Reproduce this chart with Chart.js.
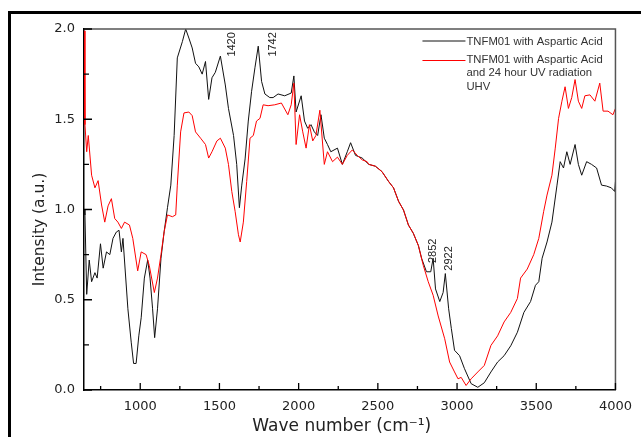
<!DOCTYPE html>
<html>
<head>
<meta charset="utf-8">
<script src="https://cdn.jsdelivr.net/npm/chart.js@4.4.1/dist/chart.umd.min.js"></script>
<style>
  html, body { margin: 0; padding: 0; background: #fff; overflow: hidden; }
  #wrap { position: relative; width: 641px; height: 437px; }
  #frame { position: absolute; left: 8px; top: 11px; width: 700px; height: 500px;
           border-left: 3px solid #000; border-top: 3px solid #000; pointer-events: none; }
</style>
</head>
<body>
<div id="wrap">
  <canvas id="irChart"></canvas>
  <div id="frame"></div>
</div>
<script>
// Series labels
const seriesLabels = ['TNFM01 with Aspartic Acid', 'TNFM01 with Aspartic Acid\nand 24 hour UV radiation\nUHV'];

// TNFM01 with Aspartic Acid (black)
const wnAspartic = [645, 651, 662, 678, 693, 714, 728, 749, 766, 787, 808, 828, 849, 866, 881, 891,
  922, 943, 958, 974, 991, 1006, 1026, 1047, 1062, 1078, 1091, 1109, 1131, 1151, 1172, 1193, 1214,
  1234, 1266, 1287, 1307, 1328, 1349, 1370, 1391, 1412, 1432, 1453, 1474, 1506, 1537, 1557, 1589,
  1609, 1626, 1641, 1662, 1682, 1703, 1724, 1745, 1766, 1787, 1818, 1839, 1870, 1912, 1953, 1970,
  1984, 2016, 2037, 2057, 2078, 2099, 2120, 2141, 2162, 2182, 2203, 2245, 2276, 2307, 2328, 2359,
  2401, 2443, 2484, 2526, 2568, 2599, 2631, 2662, 2693, 2724, 2756, 2776, 2807, 2834, 2849, 2864,
  2891, 2912, 2926, 2947, 2964, 2984, 3016, 3047, 3089, 3131, 3172, 3214, 3256, 3297, 3339, 3381,
  3422, 3464, 3495, 3516, 3537, 3568, 3599, 3631, 3651, 3672, 3693, 3714, 3745, 3766, 3787, 3818,
  3849, 3881, 3912, 3943, 3974, 3995, 4000];
const intAspartic = [1.00, 0.97, 0.53, 0.72, 0.60, 0.65, 0.62, 0.81, 0.675, 0.765, 0.75, 0.84, 0.875, 0.885, 0.765, 0.84,
  0.45, 0.265, 0.147, 0.147, 0.30, 0.40, 0.62, 0.72, 0.62, 0.45, 0.29, 0.45, 0.73, 0.877, 1.01, 1.135, 1.41,
  1.84, 1.93, 2.00, 1.95, 1.895, 1.81, 1.79, 1.75, 1.82, 1.61, 1.73, 1.76, 1.85, 1.69, 1.56, 1.41,
  1.25, 1.01, 1.135, 1.28, 1.49, 1.655, 1.785, 1.905, 1.71, 1.64, 1.62, 1.62, 1.64, 1.63, 1.645, 1.74,
  1.54, 1.63, 1.49, 1.45, 1.47, 1.43, 1.41, 1.525, 1.395, 1.36, 1.32, 1.34, 1.25, 1.32, 1.37, 1.30,
  1.285, 1.25, 1.24, 1.21, 1.155, 1.12, 1.045, 0.997, 0.914, 0.868, 0.80, 0.73, 0.655, 0.655, 0.73, 0.56,
  0.49, 0.54, 0.645, 0.45, 0.34, 0.22, 0.19, 0.118, 0.035, 0.015, 0.04, 0.10, 0.155, 0.19, 0.245, 0.32,
  0.43, 0.49, 0.58, 0.60, 0.73, 0.82, 0.93, 1.135, 1.265, 1.23, 1.32, 1.25, 1.36, 1.25, 1.19, 1.265,
  1.25, 1.23, 1.135, 1.13, 1.12, 1.10, 1.155];

// TNFM01 with Aspartic Acid and 24 hour UV radiation UHV (red)
const wnUV = [645, 651, 662, 672, 693, 714, 734, 756, 776, 797, 818, 839, 859, 881, 901, 932, 953,
  984, 1006, 1037, 1057, 1089, 1109, 1131, 1151, 1172, 1203, 1224, 1234, 1255, 1276, 1307, 1328,
  1349, 1381, 1412, 1432, 1453, 1484, 1506, 1537, 1557, 1578, 1599, 1620, 1631, 1651, 1672, 1693,
  1714, 1734, 1756, 1776, 1807, 1849, 1891, 1932, 1953, 1970, 1984, 2006, 2026, 2047, 2068, 2089,
  2109, 2134, 2162, 2182, 2214, 2245, 2276, 2307, 2339, 2370, 2401, 2432, 2443, 2484, 2526, 2568,
  2599, 2631, 2662, 2693, 2724, 2756, 2787, 2818, 2849, 2881, 2922, 2953, 2984, 3006, 3026, 3057,
  3089, 3131, 3172, 3214, 3256, 3297, 3339, 3381, 3401, 3443, 3484, 3516, 3547, 3568, 3599, 3620,
  3641, 3662, 3682, 3703, 3724, 3745, 3766, 3787, 3807, 3839, 3870, 3901, 3922, 3953, 3984, 4000];
const intUV = [1.99, 1.47, 1.32, 1.41, 1.19, 1.12, 1.16, 1.025, 0.93, 1.02, 1.06, 0.95, 0.93, 0.895, 0.93, 0.914, 0.84,
  0.66, 0.765, 0.75, 0.69, 0.54, 0.62, 0.75, 0.877, 0.97, 0.96, 0.97, 1.135, 1.43, 1.535, 1.54, 1.52,
  1.43, 1.395, 1.36, 1.285, 1.32, 1.38, 1.395, 1.34, 1.25, 1.10, 0.99, 0.86, 0.82, 0.93, 1.155, 1.395,
  1.41, 1.49, 1.505, 1.58, 1.575, 1.58, 1.59, 1.525, 1.58, 1.70, 1.36, 1.525, 1.43, 1.34, 1.47, 1.38,
  1.41, 1.55, 1.25, 1.32, 1.265, 1.29, 1.25, 1.30, 1.33, 1.30, 1.275, 1.265, 1.25, 1.24, 1.21, 1.155,
  1.12, 1.045, 0.997, 0.914, 0.868, 0.80, 0.69, 0.60, 0.525, 0.41, 0.284, 0.155, 0.10, 0.062, 0.07, 0.025,
  0.062, 0.10, 0.136, 0.247, 0.30, 0.377, 0.43, 0.507, 0.62, 0.67, 0.75, 0.84, 0.99, 1.08, 1.19, 1.34,
  1.505, 1.60, 1.68, 1.56, 1.62, 1.72, 1.60, 1.56, 1.63, 1.635, 1.60, 1.70, 1.545, 1.545, 1.525, 1.56];

// Axis ticks
const xTicks = [1000, 1500, 2000, 2500, 3000, 3500, 4000];
const xMinor = [750, 1250, 1750, 2250, 2750, 3250, 3750];
const yTicks = [0, 0.5, 1.0, 1.5, 2.0];
const yMinor = [0.25, 0.75, 1.25, 1.75];

// Peak labels (anchored in data units, drawn rotated)
const peakNotes = [
  { text: '1420', wn: 1601, at: 1.847 },
  { text: '1742', wn: 1858, at: 1.847 },
  { text: '2852', wn: 2864, at: 0.703 },
  { text: '2922', wn: 2970, at: 0.661 }
];

const toPoints = (xs, ys) => xs.map((v, i) => ({ x: v, y: ys[i] }));

const textColor = '#222';

// Draws box, inward ticks, peak labels, legend and axis titles
const decorPlugin = {
  id: 'decor',
  afterDraw(chart) {
    const { ctx, chartArea: a, scales: { x, y } } = chart;
    ctx.save();

    // top and right box lines
    ctx.strokeStyle = '#555';
    ctx.lineWidth = 1.5;
    ctx.beginPath();
    ctx.moveTo(a.left, a.top);
    ctx.lineTo(a.right, a.top);
    ctx.lineTo(a.right, a.bottom);
    ctx.stroke();

    // inward ticks
    ctx.strokeStyle = '#000';
    ctx.lineWidth = 1.3;
    ctx.beginPath();
    yTicks.forEach(v => { const p = y.getPixelForValue(v); ctx.moveTo(a.left, p); ctx.lineTo(a.left + 8, p); });
    yMinor.forEach(v => { const p = y.getPixelForValue(v); ctx.moveTo(a.left, p); ctx.lineTo(a.left + 5, p); });
    xTicks.forEach(v => { const p = x.getPixelForValue(v); ctx.moveTo(p, a.bottom); ctx.lineTo(p, a.bottom - 7); });
    xMinor.forEach(v => { const p = x.getPixelForValue(v); ctx.moveTo(p, a.bottom); ctx.lineTo(p, a.bottom - 4); });
    ctx.stroke();

    // peak labels
    ctx.fillStyle = textColor;
    ctx.font = '11px "Liberation Sans", Arial, sans-serif';
    ctx.textAlign = 'left';
    ctx.textBaseline = 'alphabetic';
    peakNotes.forEach(n => {
      ctx.save();
      ctx.translate(x.getPixelForValue(n.wn), y.getPixelForValue(n.at));
      ctx.rotate(-Math.PI / 2);
      ctx.fillText(n.text, 0, 0);
      ctx.restore();
    });

    // legend
    const lx = a.right - 193, ly = a.top + 12;
    ctx.lineWidth = 1;
    ctx.strokeStyle = '#111';
    ctx.beginPath(); ctx.moveTo(lx, ly); ctx.lineTo(lx + 43, ly); ctx.stroke();
    ctx.strokeStyle = '#ff0000';
    ctx.beginPath(); ctx.moveTo(lx, ly + 19.5); ctx.lineTo(lx + 43, ly + 19.5); ctx.stroke();
    ctx.font = '11.3px "Liberation Sans", Arial, sans-serif';
    ctx.fillStyle = '#333';
    ctx.fillText(seriesLabels[0], lx + 44, ly + 3.5);
    seriesLabels[1].split('\n').forEach((line, i) => {
      ctx.fillText(line, lx + 44, ly + 22 + i * 13.3);
    });

    // axis titles
    ctx.fillStyle = textColor;
    ctx.font = '17px "DejaVu Sans", sans-serif';
    ctx.textAlign = 'center';
    ctx.fillText('Wave number (cm\u207B\u00B9)', (a.left + a.right) / 2 - 8, 431);
    ctx.font = '15.5px "DejaVu Sans", sans-serif';
    ctx.translate(44, (a.top + a.bottom) / 2 + 20);
    ctx.rotate(-Math.PI / 2);
    ctx.fillText('Intensity (a.u.)', 0, 0);

    ctx.restore();
  }
};

const ctx = document.getElementById('irChart').getContext('2d');
new Chart(ctx, {
  type: 'line',
  data: {
    datasets: [
      { label: seriesLabels[0], data: toPoints(wnAspartic, intAspartic), borderColor: '#111',
        borderWidth: 1, pointRadius: 0, tension: 0, fill: false, order: 1 },
      { label: seriesLabels[1], data: toPoints(wnUV, intUV), borderColor: '#ff0000',
        borderWidth: 1, pointRadius: 0, tension: 0, fill: false, order: 0 }
    ]
  },
  options: {
    responsive: true,
    maintainAspectRatio: false,
    animation: false,
    layout: { padding: { left: 0, top: 29, right: 19, bottom: 0 } },
    plugins: { legend: { display: false }, tooltip: { enabled: false } },
    scales: {
      x: {
        type: 'linear',
        min: 645,
        max: 4000,
        afterBuildTicks: s => { s.ticks = xTicks.map(v => ({ value: v })); },
        afterFit: s => { s.height = 47; },
        grid: { display: false, drawTicks: false },
        border: { display: true, color: '#000', width: 1.5 },
        ticks: { padding: 9, color: textColor, font: { family: 'DejaVu Sans', size: 13 },
                 maxRotation: 0, callback: v => String(v) }
      },
      y: {
        type: 'linear',
        min: 0,
        max: 2,
        afterBuildTicks: s => { s.ticks = yTicks.map(v => ({ value: v })); },
        afterFit: s => { s.width = 84; },
        grid: { display: false, drawTicks: false },
        border: { display: true, color: '#000', width: 1.5 },
        ticks: { padding: 9, color: textColor, font: { family: 'DejaVu Sans', size: 13 },
                 callback: v => Number(v).toFixed(1) }
      }
    }
  },
  plugins: [decorPlugin]
});
</script>
</body>
</html>
